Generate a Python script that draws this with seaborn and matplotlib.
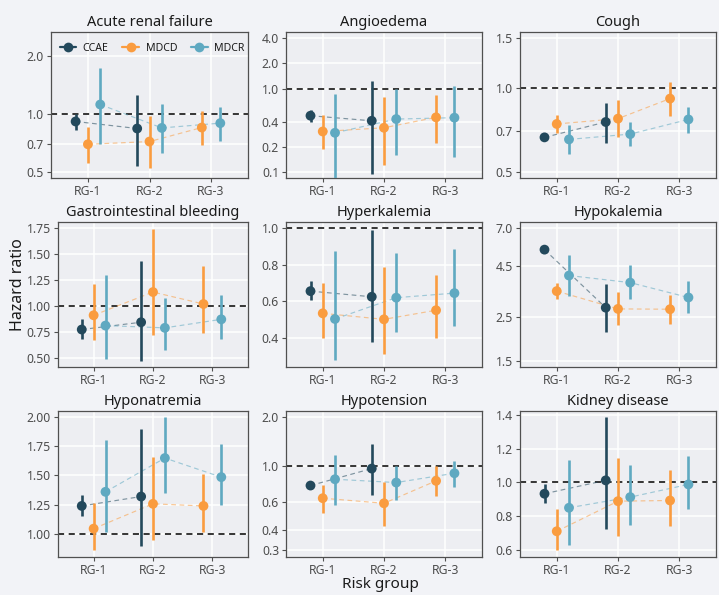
import numpy as np
import pandas as pd
import matplotlib
matplotlib.use("Agg")
import matplotlib.pyplot as plt
import seaborn as sns
from matplotlib.ticker import FixedLocator, FormatStrFormatter, NullLocator
from matplotlib.lines import Line2D

nan = np.nan

outcomes = ["Acute renal failure", "Angioedema", "Cough",
            "Gastrointestinal bleeding", "Hyperkalemia", "Hypokalemia",
            "Hyponatremia", "Hypotension", "Kidney disease"]
risk_groups = ["RG-1", "RG-2", "RG-3"]
databases = ["CCAE", "MDCD", "MDCR"]

ccae_hr = [[0.916, 0.842, nan], [0.473, 0.411, nan], [0.666, 0.755, nan],
           [0.774, 0.844, nan], [0.655, 0.624, nan], [5.46, 2.78, nan],
           [1.241, 1.321, nan], [0.755, 0.962, nan], [0.933, 1.012, nan]]
ccae_lo = [[0.83, 0.54, nan], [0.40, 0.0955, nan], [0.655, 0.637, nan],
           [0.681, 0.474, nan], [0.606, 0.375, nan], [5.30, 2.10, nan],
           [1.153, 0.90, nan], [0.716, 0.657, nan], [0.881, 0.723, nan]]
ccae_hi = [[1.0, 1.26, nan], [0.548, 1.23, nan], [0.677, 0.884, nan],
           [0.876, 1.43, nan], [0.708, 0.989, nan], [5.62, 3.68, nan],
           [1.332, 1.895, nan], [0.788, 1.363, nan], [0.99, 1.385, nan]]

mdcd_hr = [[0.697, 0.72, 0.852], [0.306, 0.339, 0.452], [0.743, 0.776, 0.914],
           [0.911, 1.134, 1.019], [0.533, 0.50, 0.550], [3.37, 2.74, 2.73],
           [1.048, 1.259, 1.241], [0.630, 0.586, 0.807], [0.711, 0.889, 0.893]]
mdcd_lo = [[0.555, 0.523, 0.689], [0.188, 0.121, 0.224], [0.692, 0.669, 0.795],
           [0.678, 0.726, 0.745], [0.40, 0.311, 0.40], [3.06, 2.26, 2.31],
           [0.864, 0.952, 1.02], [0.513, 0.424, 0.648], [0.599, 0.684, 0.741]]
mdcd_hi = [[0.859, 0.98, 1.037], [0.477, 0.80, 0.83], [0.80, 0.904, 1.047],
           [1.214, 1.743, 1.386], [0.697, 0.785, 0.741], [3.72, 3.33, 3.22],
           [1.27, 1.653, 1.511], [0.758, 0.796, 0.995], [0.84, 1.144, 1.071]]

mdcr_hr = [[1.123, 0.848, 0.898], [0.295, 0.431, 0.448], [0.655, 0.684, 0.771],
           [0.812, 0.790, 0.872], [0.502, 0.619, 0.644], [4.04, 3.72, 3.13],
           [1.361, 1.648, 1.486], [0.826, 0.788, 0.90], [0.85, 0.913, 0.988]]
mdcr_lo = [[0.70, 0.628, 0.729], [0.07, 0.159, 0.150], [0.58, 0.623, 0.691],
           [0.49, 0.573, 0.681], [0.274, 0.433, 0.462], [3.19, 3.06, 2.60],
           [1.02, 1.355, 1.25], [0.575, 0.615, 0.741], [0.632, 0.751, 0.844]]
mdcr_hi = [[1.74, 1.127, 1.096], [0.855, 0.98, 1.07], [0.736, 0.755, 0.853],
           [1.30, 1.08, 1.108], [0.878, 0.867, 0.885], [5.13, 4.55, 3.77],
           [1.80, 1.994, 1.764], [1.176, 1.0, 1.069], [1.13, 1.103, 1.156]]

y_ticks = [[0.5, 0.7, 1.0, 2.0], [0.1, 0.2, 0.4, 1.0, 2.0, 4.0], [0.5, 0.7, 1.0, 1.5],
           [0.5, 0.75, 1.0, 1.25, 1.5, 1.75], [0.4, 0.6, 0.8, 1.0], [1.5, 2.5, 4.5, 7.0],
           [1.0, 1.25, 1.5, 1.75, 2.0], [0.3, 0.4, 0.6, 1.0, 2.0], [0.6, 0.8, 1.0, 1.2, 1.4]]

# ---- styling / layout (not data) ----
log_panel = [True, True, True, False, False, True, False, True, False]
tick_fmt = ["%.1f", "%.1f", "%.1f", "%.2f", "%.1f", "%.1f", "%.2f", "%.1f", "%.1f"]
ylims = [(0.465, 2.68), (0.0847, 4.77), (0.478, 1.574), (0.414, 1.807), (0.238, 1.035),
         (1.394, 7.53), (0.807, 2.048), (0.272, 2.19), (0.559, 1.422)]
# pixel boxes (left, top, right, bottom)
boxes = [(51, 32, 248, 178), (286, 32, 482, 178), (520, 32, 716, 178),
         (58, 222, 248, 367), (286, 222, 482, 367), (520, 222, 716, 367),
         (58, 411, 248, 557), (286, 411, 482, 557), (520, 411, 716, 557)]

palette = {"CCAE": "#23495C", "MDCD": "#FA9C3F", "MDCR": "#5FA9C1"}
FIG_BG = "#F2F3F7"
PANEL_BG = "#EDEEF2"
EDGE = "#505050"

sns.set_theme(style="white")
plt.rcParams["font.family"] = ["Noto Sans", "DejaVu Sans"]

rows = []
series = {"CCAE": (ccae_hr, ccae_lo, ccae_hi),
          "MDCD": (mdcd_hr, mdcd_lo, mdcd_hi),
          "MDCR": (mdcr_hr, mdcr_lo, mdcr_hi)}
for i, o in enumerate(outcomes):
    for j, rg in enumerate(risk_groups):
        for db in databases:
            hr, lo, hi = series[db]
            if not np.isnan(hr[i][j]):
                rows.append(dict(outcome=o, db=db, rg=rg, rgi=j,
                                 hr=hr[i][j], lo=lo[i][j], hi=hi[i][j]))
df = pd.DataFrame(rows)
grp = df.groupby(["outcome", "rg"])
df["n"] = grp["db"].transform("count")
df["k"] = grp.cumcount()
df["x"] = df["rgi"] + (df["k"] - (df["n"] - 1) / 2) * (0.6 / df["n"])

W, H = 719, 595
fig = plt.figure(figsize=(W / 100, H / 100), dpi=100, facecolor=FIG_BG)

for i, o in enumerate(outcomes):
    l, t, r, b = boxes[i]
    ax = fig.add_axes([l / W, 1 - b / H, (r - l) / W, (b - t) / H])
    ax.set_facecolor(PANEL_BG)
    d = df[df.outcome == o]
    if log_panel[i]:
        ax.set_yscale("log")
    ax.axhline(1.0, color="black", lw=1.1, ls=(0, (4, 3)), zorder=2)
    for db in databases:
        sub = d[d.db == db].sort_values("x")
        if len(sub) == 0:
            continue
        sns.lineplot(data=sub, x="x", y="hr", ax=ax, color=palette[db],
                     estimator=None, sort=False, lw=0.85, alpha=0.55,
                     linestyle=(0, (4, 3)), legend=False, zorder=3)
        ax.vlines(sub["x"], sub["lo"], sub["hi"], color=palette[db], lw=1.9, zorder=4)
    sns.scatterplot(data=d, x="x", y="hr", hue="db", palette=palette, s=50,
                    edgecolor="none", linewidth=0, legend=False, ax=ax, zorder=5)
    ax.set_xlim(-0.6, 2.6)
    ax.set_ylim(*ylims[i])
    ax.set_xticks([0, 1, 2])
    ax.set_xticklabels(risk_groups)
    ax.yaxis.set_major_locator(FixedLocator(y_ticks[i]))
    ax.yaxis.set_major_formatter(FormatStrFormatter(tick_fmt[i]))
    ax.yaxis.set_minor_locator(NullLocator())
    ax.xaxis.set_minor_locator(NullLocator())
    ax.set_xlabel("")
    ax.set_ylabel("")
    ax.grid(True, which="major", color="white", lw=1.1)
    ax.set_axisbelow(True)
    for s in ax.spines.values():
        s.set_color(EDGE)
        s.set_linewidth(0.9)
    ax.tick_params(axis="both", which="major", direction="out", length=3,
                   width=0.8, color=EDGE, labelcolor="#4D4D4D", labelsize=8.8, pad=2,
                   bottom=True, left=True)
    ax.set_title(o, fontsize=10.5, pad=4, color="#1A1A1A")
    if i == 0:
        handles = [Line2D([0], [0], color=palette[db], marker="o", markersize=7,
                          lw=1.6, markeredgewidth=0) for db in databases]
        ax.legend(handles, databases, loc="center left", ncol=3, frameon=False,
                  bbox_to_anchor=(-0.005, 0.89), fontsize=7.6, handlelength=1.6,
                  handletextpad=0.6, columnspacing=1.3, labelcolor="#1A1A1A")

fig.text(18 / W, 1 - 285 / H, "Hazard ratio", rotation=90, ha="center", va="center",
         fontsize=11.5, color="#1A1A1A")
fig.text(380 / W, 1 - 585 / H, "Risk group", ha="center", va="center",
         fontsize=11, color="#1A1A1A")

fig.savefig("out.png", dpi=100, facecolor=FIG_BG)
